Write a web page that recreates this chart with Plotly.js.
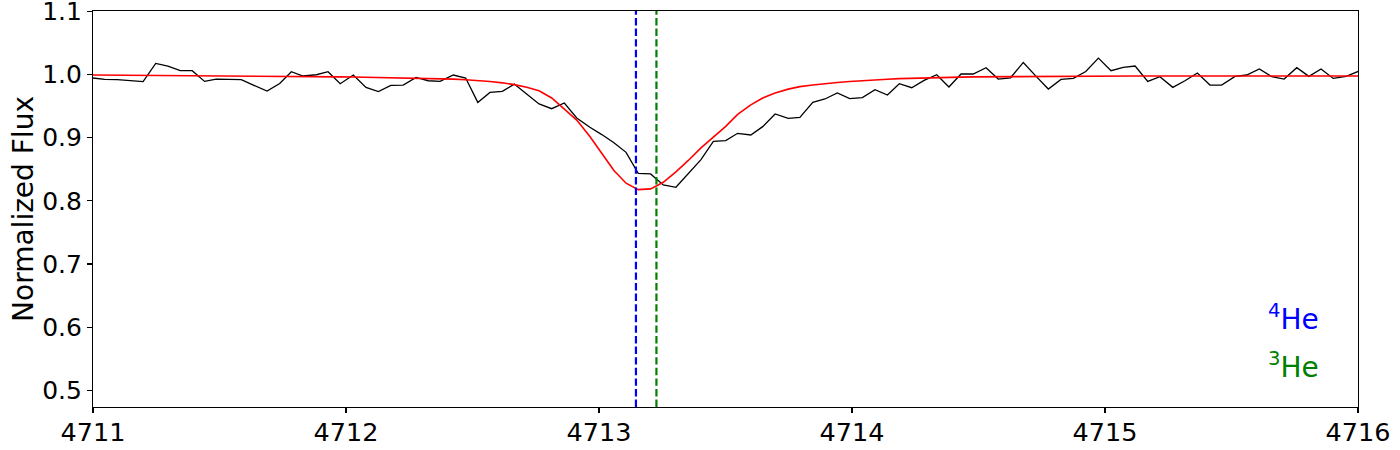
<!DOCTYPE html>
<html>
<head>
<meta charset="utf-8">
<script src="https://cdn.plot.ly/plotly-3.0.1.min.js"></script>
<style>html,body{margin:0;padding:0;background:#fff;}#chart{width:1400px;height:450px;}</style>
</head>
<body>
<div id="chart"></div>
<script>
const wavelength = [4711.000, 4711.046, 4711.096, 4711.146, 4711.198, 4711.248, 4711.296, 4711.345, 4711.392, 4711.441,
  4711.487, 4711.536, 4711.586, 4711.636, 4711.688, 4711.738, 4711.784, 4711.830, 4711.883, 4711.929,
  4711.977, 4712.029, 4712.079, 4712.128, 4712.177, 4712.226, 4712.277, 4712.325, 4712.372, 4712.424,
  4712.473, 4712.521, 4712.569, 4712.618, 4712.665, 4712.714, 4712.763, 4712.813, 4712.863, 4712.912,
  4712.964, 4713.011, 4713.059, 4713.107, 4713.155, 4713.204, 4713.254, 4713.304, 4713.353, 4713.403,
  4713.452, 4713.501, 4713.548, 4713.600, 4713.647, 4713.696, 4713.748, 4713.794, 4713.845, 4713.893,
  4713.942, 4713.991, 4714.041, 4714.091, 4714.140, 4714.187, 4714.236, 4714.285, 4714.335, 4714.383,
  4714.431, 4714.479, 4714.530, 4714.578, 4714.627, 4714.677, 4714.726, 4714.776, 4714.826, 4714.875,
  4714.924, 4714.974, 4715.024, 4715.072, 4715.119, 4715.169, 4715.217, 4715.268, 4715.316, 4715.365,
  4715.415, 4715.461, 4715.514, 4715.560, 4715.610, 4715.659, 4715.708, 4715.758, 4715.806, 4715.854,
  4715.902, 4715.953, 4716.001];

const observedFlux = [0.9947, 0.9924, 0.9920, 0.9903, 0.9888, 1.0177, 1.0136, 1.0062, 1.0062, 0.9893,
  0.9930, 0.9924, 0.9920, 0.9830, 0.9740, 0.9860, 1.0046, 0.9978, 0.9998, 1.0046,
  0.9856, 0.9994, 0.9798, 0.9730, 0.9830, 0.9835, 0.9956, 0.9903, 0.9893, 0.9994,
  0.9946, 0.9560, 0.9718, 0.9734, 0.9850, 0.9693, 0.9535, 0.9460, 0.9550, 0.9313,
  0.9165, 0.9050, 0.8922, 0.8769, 0.8437, 0.8427, 0.8253, 0.8215, 0.8427, 0.8654,
  0.8943, 0.8954, 0.9070, 0.9044, 0.9176, 0.9377, 0.9307, 0.9323, 0.9560, 0.9614,
  0.9709, 0.9620, 0.9635, 0.9760, 0.9677, 0.9856, 0.9793, 0.9909, 0.9998, 0.9804,
  1.0010, 1.0010, 1.0110, 0.9930, 0.9950, 1.0193, 0.9980, 0.9772, 0.9924, 0.9940,
  1.0050, 1.0262, 1.0062, 1.0114, 1.0136, 0.9893, 0.9967, 0.9798, 0.9903, 1.0025,
  0.9835, 0.9835, 0.9972, 0.9994, 1.0089, 0.9967, 0.9930, 1.0110, 0.9972, 1.0089,
  0.9940, 0.9972, 1.0050];

const modelFlux = [0.9994, 0.9993, 0.9993, 0.9992, 0.9991, 0.9990, 0.9990, 0.9989, 0.9988, 0.9987,
  0.9986, 0.9985, 0.9983, 0.9981, 0.9979, 0.9977, 0.9975, 0.9973, 0.9971, 0.9968,
  0.9965, 0.9962, 0.9959, 0.9956, 0.9953, 0.9950, 0.9946, 0.9941, 0.9935, 0.9928,
  0.9919, 0.9907, 0.9891, 0.9870, 0.9842, 0.9800, 0.9745, 0.9630, 0.9460, 0.9280,
  0.9020, 0.8750, 0.8480, 0.8280, 0.8178, 0.8190, 0.8294, 0.8460, 0.8640, 0.8840,
  0.9010, 0.9180, 0.9370, 0.9520, 0.9630, 0.9710, 0.9770, 0.9810, 0.9835, 0.9858,
  0.9876, 0.9890, 0.9905, 0.9917, 0.9927, 0.9936, 0.9943, 0.9949, 0.9954, 0.9958,
  0.9961, 0.9964, 0.9966, 0.9968, 0.9970, 0.9971, 0.9972, 0.9973, 0.9974, 0.9975,
  0.9975, 0.9976, 0.9976, 0.9977, 0.9977, 0.9977, 0.9978, 0.9978, 0.9978, 0.9978,
  0.9978, 0.9979, 0.9979, 0.9979, 0.9979, 0.9979, 0.9979, 0.9979, 0.9979, 0.9979,
  0.9979, 0.9979, 0.9979];

const lineWavelengths = [4713.146, 4713.227];
const lineLabels = ['<sup>4</sup>He', '<sup>3</sup>He'];
const lineColors = ['#0000ff', '#008000'];

const xTicks = [4711, 4712, 4713, 4714, 4715, 4716];
const yTicks = [0.5, 0.6, 0.7, 0.8, 0.9, 1.0, 1.1];

const FONT = 'DejaVu Sans, sans-serif';

const traces = [
  {x: wavelength, y: observedFlux, type: 'scatter', mode: 'lines',
   line: {color: '#000000', width: 1.3}, hoverinfo: 'skip', showlegend: false},
  {x: wavelength, y: modelFlux, type: 'scatter', mode: 'lines',
   line: {color: '#ff0000', width: 1.6}, hoverinfo: 'skip', showlegend: false}
];

const shapes = lineWavelengths.map((w, i) => ({
  type: 'line', xref: 'x', yref: 'paper', x0: w, x1: w, y0: 0, y1: 1,
  line: {color: lineColors[i], width: 2.2, dash: '7.4px,3.2px'}, layer: 'above'
}));

const labelY = [0.615, 0.539];
const annotations = lineLabels.map((t, i) => ({
  text: t, xref: 'x', yref: 'y', x: 4715.747, y: labelY[i],
  showarrow: false, xanchor: 'center', yanchor: 'middle',
  font: {family: FONT, size: 28, color: lineColors[i]}
}));

const layout = {
  width: 1400, height: 450,
  margin: {l: 93, r: 42, t: 11, b: 43, pad: 0},
  paper_bgcolor: '#ffffff', plot_bgcolor: '#ffffff',
  showlegend: false,
  font: {family: FONT, color: '#000000', size: 25},
  xaxis: {
    range: [4711, 4716], tickmode: 'array', tickvals: xTicks, ticktext: xTicks.map(String),
    showgrid: false, zeroline: false, automargin: false,
    showline: true, mirror: true, linecolor: '#000000', linewidth: 1.1,
    ticks: 'outside', ticklen: 5, tickwidth: 1.1, tickcolor: '#000000',
    ticklabeloverflow: 'allow', ticklabelstandoff: -3,
    tickfont: {family: FONT, size: 25.5, color: '#000000'}
  },
  yaxis: {
    range: [0.4734, 1.1008], tickmode: 'array', tickvals: yTicks, ticktext: yTicks.map(v => v.toFixed(1)),
    showgrid: false, zeroline: false, automargin: false,
    showline: true, mirror: true, linecolor: '#000000', linewidth: 1.1,
    ticks: 'outside', ticklen: 5, tickwidth: 1.1, tickcolor: '#000000',
    ticklabeloverflow: 'allow',
    tickfont: {family: FONT, size: 25, color: '#000000'},
    title: {text: 'Normalized Flux', font: {family: FONT, size: 28, color: '#000000'}, standoff: 0}
  },
  shapes: shapes,
  annotations: annotations
};

Plotly.newPlot('chart', traces, layout, {staticPlot: true, displayModeBar: false});
</script>
</body>
</html>
